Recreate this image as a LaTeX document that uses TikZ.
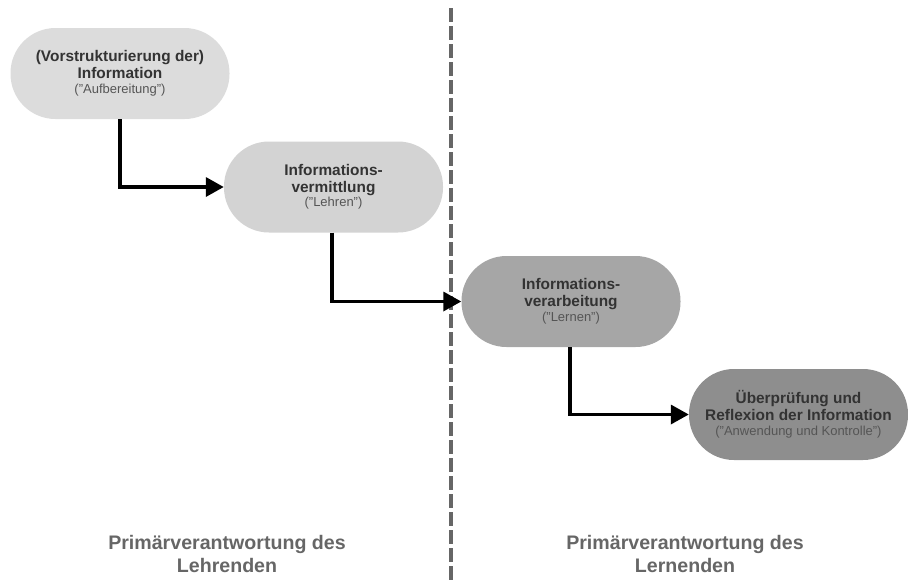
\documentclass[tikz,border=0pt]{standalone}
\usepackage{fontspec}
\setmainfont{Liberation Sans}
\usetikzlibrary{arrows.meta}
\definecolor{cA}{HTML}{DCDCDC}
\definecolor{cB}{HTML}{D3D3D3}
\definecolor{cC}{HTML}{A6A6A6}
\definecolor{cD}{HTML}{8E8E8E}
\definecolor{txt}{HTML}{333333}
\definecolor{sub}{HTML}{555555}
\definecolor{lab}{HTML}{666666}
\begin{document}
\begin{tikzpicture}[x=1pt,y=-1pt,
  stadium/.style={draw=none, rounded corners=45pt, minimum width=219pt, minimum height=91pt,
    align=center, inner sep=0pt, text=txt, font=\fontsize{15.4}{17}\selectfont\bfseries},
  flow/.style={line width=3.5pt, -{Triangle[length=18pt,width=19pt]}},
  side/.style={text=lab, align=center, font=\fontsize{19.6}{23}\selectfont\bfseries}]
\useasboundingbox (0,0) rectangle (908,582);
\newcommand{\subline}[1]{{\fontsize{13}{15.5}\selectfont\mdseries\color{sub}#1}}
\draw[lab, line width=4.5pt, dash pattern=on 13.5pt off 4.5pt] (451,8) coordinate (dtop) -- (451,582) coordinate (dbot);
\node[stadium, fill=cA] (n1) at (120,73.5) {(Vorstrukturierung der)\\Information\\[-2.5pt]\subline{("Aufbereitung")}};
\node[stadium, fill=cB] (n2) at (333.5,187) {Informations-\\vermittlung\\[-2.5pt]\subline{("Lehren")}};
\node[stadium, fill=cC] (n3) at (571,301.5) {Informations-\\verarbeitung\\[-2.5pt]\subline{("Lernen")}};
\node[stadium, fill=cD] (n4) at (798.5,414.5) {Überprüfung und\\Reflexion der Information\\[-2.5pt]\subline{("Anwendung und Kontrolle")}};
\draw[flow] (n1.south) |- (n2.west);
\draw[flow] ([xshift=-1.5pt]n2.south) |- (n3.west);
\draw[flow] ([xshift=-1pt]n3.south) |- (n4.west);
\node[side] (l1) at (227,554) {Primärverantwortung des\\Lehrenden};
\node[side] (l2) at (685,554) {Primärverantwortung des\\Lernenden};
\end{tikzpicture}
\end{document}
